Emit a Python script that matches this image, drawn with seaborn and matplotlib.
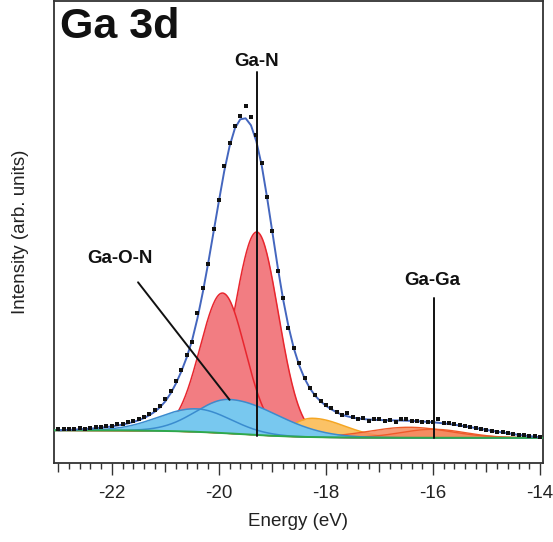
import numpy as np
import pandas as pd
import matplotlib
matplotlib.use("Agg")
import matplotlib.pyplot as plt
from matplotlib.ticker import MultipleLocator, FuncFormatter
import seaborn as sns

# ---------------- data ----------------
energy = np.round(np.arange(-23.0, -13.95, 0.1), 1)   # eV, 0.1 eV steps

measured = [34, 34, 34, 34.5, 35, 34.5, 35.5, 36, 36, 37,
            37.5, 39, 39.5, 41.5, 42, 44.5, 46, 49.5, 53, 57,
            64, 72, 82, 93, 108, 121, 150, 175, 199, 234,
            263, 297, 320, 337, 347, 357, 346, 328, 300, 266,
            232, 192, 165, 135, 115, 100, 85, 75, 68, 62,
            58, 55, 51, 48, 50, 46, 44, 45, 42, 44,
            44, 42, 43, 41, 44, 44, 42, 42, 41, 41,
            41, 44, 40, 40, 39, 38, 37, 36, 35, 34,
            33, 32, 31, 31, 30, 29, 28, 28, 27, 27, 26]

fit_envelope = [33, 33.2, 33.4, 33.7, 34, 34.3, 34.7, 35.1, 35.6, 36.2,
                36.9, 37.7, 38.7, 39.9, 41.3, 43, 45.2, 48, 51.5, 56,
                62, 70, 80, 92, 106, 123, 145, 171, 200, 231,
                262, 292, 317, 335, 344, 345, 338, 322, 298, 266,
                231, 196, 164, 137, 115, 98, 85, 75, 67.5, 62,
                57.5, 54, 51, 48.5, 47, 45.7, 44.8, 44.2, 43.8, 43.5,
                43.3, 43.1, 43, 42.9, 42.8, 42.6, 42.4, 42.1, 41.8, 41.4,
                41, 40.5, 39.9, 39.3, 38.6, 37.8, 37, 36.1, 35.2, 34.3,
                33.4, 32.5, 31.6, 30.8, 30, 29.2, 28.5, 27.8, 27.2, 26.6, 26]

# Shirley-type background: level on low-energy side, high-energy side, step centre, step width
bg_left, bg_right, bg_center, bg_width = 33.0, 25.5, -19.6, 0.6

# fit components (asymmetric Gaussians): centre, height above background, left / right sigma
comp_group  = ["Ga-N", "Ga-N", "Ga-O-N", "Ga-O-N", "other", "Ga-Ga", "Ga-Ga"]
comp_center = [-19.29, -19.93, -20.42, -19.80, -18.25, -16.45, -16.00]
comp_height = [203, 140, 23, 34, 18.8, 10.5, 8.5]
comp_sig_l  = [0.42, 0.42, 0.70, 0.62, 0.40, 0.75, 0.60]
comp_sig_r  = [0.40, 0.42, 0.64, 0.90, 0.60, 0.75, 0.60]

labels = ["Ga-N", "Ga-O-N", "Ga-Ga"]
label_xy = [(-19.30, 402), (-21.85, 205), (-16.02, 183)]
marker_lines = [((-19.28, -19.28), (391, 27)),
                ((-21.51, -19.80), (181, 63.5)),
                ((-15.98, -15.98), (165, 25))]

# ---------------- styling ----------------
sns.set_theme(style="white")
plt.rcParams["font.family"] = ["Liberation Sans", "DejaVu Sans"]

fill_col = {"Ga-N": "#F27D82", "Ga-O-N": "#78C8EF", "other": "#FBC266", "Ga-Ga": "#F58A5E"}
edge_col = {"Ga-N": "#E8262E", "Ga-O-N": "#3A8CCF", "other": "#F5A623", "Ga-Ga": "#EE5A2A"}

W, H = 553, 542
fig = plt.figure(figsize=(W / 100, H / 100), dpi=100)
ax = fig.add_axes([54 / W, (H - 463.3) / H, (542.7 - 54) / W, (463.3 - 1) / H])

xf = np.linspace(-23.08, -13.95, 800)
bg = bg_right + (bg_left - bg_right) / (1 + np.exp((xf - bg_center) / bg_width))


def comp(i):
    c = comp_center[i]
    s = np.where(xf < c, comp_sig_l[i], comp_sig_r[i])
    return bg + comp_height[i] * np.exp(-(xf - c) ** 2 / (2 * s ** 2))


# red (Ga-N) components, each drawn on top of the previous one
z = 2.0
for i in [0, 1]:
    y = comp(i)
    ax.fill_between(xf, bg, y, color=fill_col["Ga-N"], lw=0, zorder=z)
    ax.plot(xf, y, color=edge_col["Ga-N"], lw=1.1, zorder=z + 0.05)
    z += 0.1
# yellow component
y = comp(4)
ax.fill_between(xf, bg, y, color=fill_col["other"], lw=0, zorder=2.4)
ax.plot(xf, y, color=edge_col["other"], lw=1.1, zorder=2.45)
# Ga-Ga components
for i in [5, 6]:
    ax.fill_between(xf, bg, comp(i), color=fill_col["Ga-Ga"], alpha=0.85, lw=0, zorder=2.5)
for i in [5, 6]:
    ax.plot(xf, comp(i), color=edge_col["Ga-Ga"], lw=1.0, zorder=2.55)
# blue (Ga-O-N) components
for i in [2, 3]:
    ax.fill_between(xf, bg, comp(i), color=fill_col["Ga-O-N"], lw=0, zorder=3)
for i in [2, 3]:
    ax.plot(xf, comp(i), color=edge_col["Ga-O-N"], lw=1.1, zorder=3.1)

# background
ax.plot(xf, bg, color="#2FA84C", lw=1.4, zorder=3.5)

df = pd.DataFrame({"Energy": energy, "measured": measured, "fit": fit_envelope})
sns.lineplot(data=df, x="Energy", y="fit", color="#4466BE", lw=1.4, ax=ax, zorder=4)
sns.scatterplot(data=df, x="Energy", y="measured", color="#111111", marker="s",
                s=5.5, linewidth=0, ax=ax, zorder=5)

# annotations
for (ex, ey), lab in zip(label_xy, labels):
    ax.text(ex, ey, lab, ha="center", va="center", fontsize=13.5, fontweight="bold",
            color="#111111", zorder=6)
for (lx, ly) in marker_lines:
    ax.plot(lx, ly, color="#111111", lw=1.4, zorder=6)

fig.text(60 / W, 1 - 7 / H, "Ga 3d", ha="left", va="top", fontsize=31,
         fontweight="bold", color="#111111")

# axes
ax.set_xlim(-23.08, -13.95)
ax.set_ylim(0, 462.3)
ax.set_xlabel("Energy (eV)", fontsize=13.5, color="#222222", labelpad=8)
ax.set_ylabel("Intensity (arb. units)", fontsize=13.5, color="#222222", labelpad=18)
ax.set_yticks([])
ax.xaxis.set_major_locator(MultipleLocator(1))
ax.xaxis.set_minor_locator(MultipleLocator(0.2))
ax.xaxis.set_major_formatter(FuncFormatter(lambda v, p: f"{int(round(v))}" if round(v) % 2 == 0 else ""))
ax.tick_params(axis="x", which="major", direction="out", length=8.6, width=1.0,
               color="#333333", labelsize=13.5, labelcolor="#222222", pad=7, bottom=True)
ax.tick_params(axis="x", which="minor", direction="out", length=4.3, width=1.0,
               color="#333333", bottom=True)
for sp in ax.spines.values():
    sp.set_visible(True)
    sp.set_color("#333333")
    sp.set_linewidth(1.3)

fig.canvas.draw()
for t, loc in zip(ax.xaxis.get_major_ticks(), ax.xaxis.get_majorticklocs()):
    if round(loc) % 2 != 0:
        t.tick1line.set_markersize(6.4)

fig.savefig("out.png", dpi=100, facecolor="white")
